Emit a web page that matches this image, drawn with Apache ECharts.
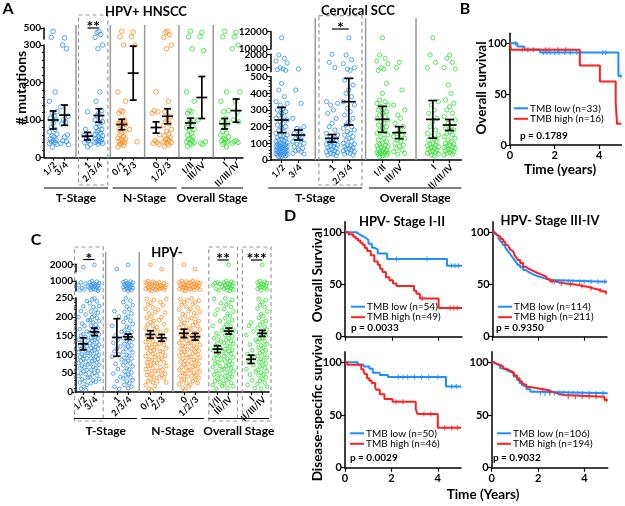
<!DOCTYPE html>
<html><head><meta charset="utf-8">
<script src="https://cdn.jsdelivr.net/npm/echarts@6/dist/echarts.min.js"></script>
<style>html,body{margin:0;padding:0;background:#fff}#c{width:625px;height:506px}</style>
</head><body><div id="c"></div>
<script>
// ================= DATA =================
// Panel A (left): HPV+ HNSCC, # mutations per patient
const hpvPosLabels = ['1/2','3/4','1','2/3/4','0/1','2/3','0','1/2/3','I/II','III/IV','I','II/III/IV'];
const hpvPosGroups = ['T','T','T','T','N','N','N','N','O','O','O','O'];
const hpvPosValues = [
  [470,415,175,150,122,118,110,105,100,92,80,75,68,62,58,55,50,47,45,42,40,38,35,28],
  [410,300,290,135,110,100,95,90,60,55,45,42,38,35],
  [122,75,62,58,52,48,45,40,35,28],
  [470,460,440,415,300,290,175,150,125,118,112,105,100,95,90,85,80,75,72,68,65,62,58,55,52,50,48,45,43,42,40,38,36],
  [470,420,300,175,150,125,122,118,100,98,95,92,90,88,85,80,75,70,65,60,55,52,50,48,45,42,40,38,35,32,28],
  [460,420,300,75,42],
  [175,125,122,118,60,45,40,38,35],
  [470,460,440,415,300,290,150,122,110,100,95,90,85,75,70,62,58,55,50,48,45,42,40,38,35,30],
  [470,420,290,175,150,125,122,118,100,95,90,85,80,75,70,65,60,55,50,48,45,42,40,38,35,30],
  [460,420,285,100,42,38,35],
  [470,420,175,150,125,122,105,95,90,80,70,65,60,55,50,48,45,42,40,35,28],
  [460,420,300,290,175,150,120,100,95,45,42,40,38]
];
const hpvPosMean = [100,113,57,112,88,225,80,110,92,160,90,125];
const hpvPosSem  = [24,27,10,18,14,72,15,20,13,56,14,31];
const hpvPosTickLabels = [0,100,200,300];
const hpvPosTopTickLabels = [500];

// Panel A (right): Cervical SCC
const cervLabels = ['1/2','3/4','1','2/3/4','I/II','III/IV','I','II/III/IV'];
const cervGroups = ['T','T','T','T','O','O','O','O'];
const cervValues = [
  [11300,1950,1700,1500,1350,1000,900,850,800,460,420,380,350,340,330,310,300,290,280,270,260,250,240,230,220,210,200,190,180,170,160,150,145,140,135,130,125,120,115,110,105,100,98,95,92,90,88,85,82,80,78,75,72,70,68,65,62,60,58,55,52,50,48,45,42,40,38,35,32,30,28,25,22,20],
  [900,420,340,250,200,190,180,160,150,140,130,120,110,100,95,90,80,70,60,55,50,40,35],
  [2000,1400,1000,350,340,330,300,280,250,220,200,180,160,150,140,130,120,115,110,105,100,95,90,85,80,75,70,65,60,55,50,45,40,35,30,25],
  [11300,1950,1600,1300,1000,900,800,480,450,420,400,380,350,330,310,290,270,250,230,210,200,190,180,170,160,150,140,130,120,110,100,95,90,85,80,75,70,65,60,55,50,45,40,35,30],
  [11300,1950,1700,1500,1300,1000,900,800,460,400,360,350,340,330,320,310,300,290,280,270,260,250,240,230,220,210,200,190,180,170,160,150,140,130,120,110,100,95,90,85,80,75,70,65,60,55,50,48,45,42,40,38,35,30,25,20],
  [1400,1000,420,330,300,270,250,220,200,180,160,150,140,130,120,110,100,90,80,70,60,50,40,35],
  [11300,1950,1400,1000,350,330,300,280,250,230,200,180,160,150,140,130,120,110,100,95,90,85,80,75,70,65,60,55,50,45,40,35,30,25],
  [1950,1700,1400,1000,900,450,400,360,340,320,300,280,260,240,220,200,190,180,170,160,150,140,130,120,110,100,95,90,85,80,75,70,65,60,55,50,45,40,35,30]
];
const cervMean = [240,150,130,350,244,164,244,210];
const cervSem  = [76,30,23,140,78,36,113,33];
const cervTickLabels = [0,100,200,300,400,500];
const cervMidTickLabels = [1000,2000];
const cervTopTickLabels = [10000,12000];

// Panel C: HPV-
const hpvNegLabels = ['1/2','3/4','1','2/3/4','0/1','2/3','0','1/2/3','I/II','III/IV','I','II/III/IV'];
const hpvNegGroups = ['T','T','T','T','N','N','N','N','O','O','O','O'];
const hpvNegValues = [
  [1700,900,810,700,610,500,410,350,242,228,215,206,199,191,182,176,167,161,154,150,146,139,136,131,127,123,121,116,114,110,106,104,100,97,93,90,88,83,80,77,73,70,66,63,58,55,50,47,42,38,34,29,25,19,14,9,5],
  [1950,1000,955,905,850,795,760,722,680,645,598,562,521,478,442,398,361,322,249,246,241,236,229,226,219,214,211,204,199,197,191,188,185,179,176,171,168,163,160,158,153,151,147,145,143,138,136,132,130,126,124,120,117,115,111,109,105,103,99,96,94,90,88,84,82,78,75,72,67,64,59,56,51,47,44,39,35,31,27,23],
  [1500,215,201,176,160,151,139,131,121,114,108,100,94,86,75,61,49,40,29,14,8],
  [1950,1000,962,918,881,842,799,761,718,683,641,598,561,519,482,440,401,362,318,249,243,239,231,227,220,213,209,201,197,190,186,181,174,171,164,160,157,151,149,143,141,135,133,128,124,121,115,113,107,105,99,96,91,89,83,80,76,71,68,63,60,55,52,47,44,39,36,31,28,23,19,14,10],
  [1950,1000,948,902,851,799,752,701,648,603,549,501,452,398,352,301,248,245,237,233,225,221,213,209,201,197,189,186,179,176,169,166,159,157,151,149,143,141,135,133,127,125,119,117,111,109,103,101,95,93,87,85,79,77,71,69,63,61,55,53,47,45,39,36,29,26,19,16,9,5],
  [1500,902,851,798,752,698,651,598,552,499,452,398,351,248,239,231,219,211,199,191,180,172,164,159,150,146,139,136,129,126,119,116,109,106,99,96,89,86,79,76,69,66,59,56,49,46,39,36,29,25],
  [1950,1000,951,899,852,801,749,702,651,598,552,499,448,401,349,302,247,244,239,231,227,219,215,207,203,195,191,184,181,174,171,164,161,155,153,147,145,139,137,131,129,123,121,115,113,107,105,99,97,91,89,83,81,75,73,67,65,59,57,51,49,43,41,34,31,24,21,14,11,5],
  [1500,1000,948,903,849,802,748,698,653,601,548,503,449,398,352,298,249,243,238,233,225,221,213,210,201,197,189,186,178,176,168,166,158,156,150,147,142,139,134,131,126,123,118,115,110,107,102,99,94,91,86,83,78,75,70,67,62,59,54,51,46,43,38,34,29,24,20],
  [900,851,799,702,598,452,349,248,236,219,206,189,176,164,156,147,143,135,131,123,119,111,107,99,96,89,86,79,76,69,66,59,56,49,46,39,36,29,26,19,16,9],
  [1950,1000,952,898,853,799,748,703,649,601,548,502,451,399,348,303,249,245,238,232,226,221,214,208,203,196,191,185,180,174,171,164,161,156,151,148,143,139,136,131,128,123,121,115,112,109,103,101,95,92,89,83,81,75,72,69,63,61,55,52,49,43,41,35,31,24,21,15,10],
  [185,176,161,151,139,126,111,101,94,91,79,71,61,54,46,31,19,10],
  [1950,1000,948,902,851,798,751,702,652,598,551,498,452,401,352,299,248,244,239,231,226,222,214,207,202,197,189,186,179,174,170,166,161,156,152,149,143,141,135,133,127,124,119,117,111,108,104,99,96,92,87,84,80,76,71,68,64,59,56,52,47,44,39,35,30,25,21,14,9]
];
const hpvNegMean = [128,160,145,147,153,144,156,147,114,162,87,156];
const hpvNegSem  = [16,10,50,7,10,9,11,9,9,8,11,8];
const hpvNegTickLabels = [0,50,100,150,200,250];
const hpvNegMidTickLabels = [1000];
const hpvNegTopTickLabels = [2000];

// Panel B: HPV+ HNSCC overall survival (time in years, survival %)
const bLow  = [[0,100],[0.33,97.0],[0.65,93.9],[1.35,90.9],[4.86,67.9],[5,67.9]];
const bHigh = [[0,100],[0.05,93.75],[3.13,78.1],[4.03,62.5],[4.74,41.7],[4.8,20.8],[5,20.8]];
const bLowCens  = [0.25,1.5,1.65,1.8,2.0,2.2,2.45,2.7,3.0,4.15,4.3,4.97];
const bHighCens = [0.55,0.8,1.05,1.6,1.75,2.15,2.5];

// Panel D: HPV- Kaplan-Meier
const d1Low  = [[0,100],[0.5,98.1],[0.6,96.3],[0.75,94.4],[0.9,92.6],[1.0,88.9],[1.15,85.2],[1.25,83.3],[1.4,79.6],[1.8,74.5],[4.36,68],[5,68]];
const d1High = [[0,100],[0.15,98],[0.35,96],[0.45,94],[0.55,92],[0.65,90],[0.75,88],[0.85,85],[0.95,82],[1.1,78],[1.25,72],[1.4,69],[1.5,65],[1.6,62],[1.75,57],[1.9,54],[2.05,51],[2.2,48.5],[2.95,44],[3.05,41],[3.2,36.5],[4.0,27.5],[5,27.5]];
const d1LowCens = [2.2,3.5,4.55,4.7,4.85];
const d1HighCens = [3.3,4.5,4.65,4.8];
const d2Low  = [[0,100],[0.08,98.2],[0.15,96.5],[0.25,94.2],[0.32,92.1],[0.4,90],[0.46,87.8],[0.55,85.5],[0.62,83.4],[0.68,81.4],[0.76,79.2],[0.83,77.1],[0.9,75],[0.97,72.8],[1.04,70.7],[1.1,68.6],[1.2,66.5],[1.33,63.8],[1.45,62.2],[1.55,60.6],[1.7,59],[1.84,57.4],[2.05,55.8],[2.28,54.2],[2.5,52.6],[5,52.6]];
const d2High = [[0,100],[0.1,98.6],[0.18,97.2],[0.25,95.8],[0.35,93.5],[0.46,91],[0.55,88.6],[0.62,87.2],[0.68,86.2],[0.76,83.5],[0.83,81.7],[0.9,79.8],[0.97,77.6],[1.04,75.5],[1.1,73.4],[1.2,70.6],[1.33,67],[1.45,65.3],[1.55,63.8],[1.7,62.2],[1.84,60.6],[2.0,59],[2.2,57.4],[2.35,55.2],[2.5,53.2],[2.7,52],[2.9,51],[3.2,50.2],[3.5,49.4],[3.75,48.5],[3.94,47.8],[4.15,46.5],[4.38,45.5],[4.55,44.2],[4.74,43],[4.9,42.3],[5,42.3]];
const d2LowCens = [2.7,2.9,3.1,3.3,3.5,3.8,4.0,4.3,4.6,4.9];
const d2HighCens = [2.6,3.0,3.4,3.9,4.3,4.7,4.95];
const d3Low  = [[0,100],[0.55,98],[0.8,96],[1.05,94],[1.2,90],[1.5,88],[1.85,86],[4.35,77],[5,77]];
const d3High = [[0,100],[0.1,97.8],[0.7,93.5],[0.8,91.3],[0.85,89],[0.95,84.8],[1.05,82.6],[1.15,80.4],[1.3,76],[1.35,73.9],[1.5,69.6],[1.7,65.2],[2.05,62.5],[3.05,56],[3.12,51],[4.0,38],[5,38]];
const d3LowCens = [2.3,2.5,2.7,3.0,3.3,3.6,4.0,4.6,4.8];
const d3HighCens = [2.2,2.5,3.4,3.7,4.3,4.6,4.85];
const d4Low  = [[0,100],[0.1,98.5],[0.2,96.8],[0.36,94.3],[0.5,92.5],[0.65,91],[0.8,89.6],[0.95,86.5],[1.09,83.2],[1.2,80.5],[1.3,78.5],[1.38,76.9],[1.5,74.5],[1.67,72.2],[1.96,70.6],[5,70.6]];
const d4High = [[0,100],[0.1,98.8],[0.2,97.5],[0.36,95.9],[0.5,93.8],[0.65,92.2],[0.8,90.5],[0.95,87.6],[1.09,84.8],[1.2,82.0],[1.3,80.0],[1.38,78.5],[1.5,76.5],[1.67,75.3],[1.96,73.7],[2.4,72.2],[2.6,70.5],[2.83,69],[3.1,67.4],[4.86,64.2],[5,64.2]];
const d4LowCens = [2.1,2.3,2.5,2.7,2.9,3.1,3.3,3.5,3.7,3.9,4.2,4.5,4.8];
const d4HighCens = [2.2,2.5,3.3,3.6,3.9,4.2,4.5,4.95];
const kmYTicks = [0,50,100];
const kmXTicks = [0,2,4];

// ================= STYLE / LAYOUT =================
const F = 'Lato, "Liberation Sans", sans-serif';
const GROUP_COLOR = {T:'#2f8ff0', N:'#ff8a1c', O:'#2fe02f'};
const KM_BLUE = '#1f8fff', KM_RED = '#ff2020';
const JIT = [0,-0.5,0.5,-1,1,-0.25,0.25,-0.75,0.75];
function xpos(i){ return 3*Math.floor(i/2) + (i%2); }

const panels = [
  {left:44, width:199, xmin:-0.8, xmax:16.6,
   segs:[{min:0,max:300,top:45,bottom:157.5,ticks:hpvPosTickLabels,interval:100},
         {min:400,max:500,top:28,bottom:39,ticks:hpvPosTopTickLabels}],
   labels:hpvPosLabels, groups:hpvPosGroups, values:hpvPosValues, means:hpvPosMean, sems:hpvPosSem,
   spread:0.33, size:4.5, meanHW:5.5, capHW:3.5, xfs:9,
   seps:[0,1,2,3,4], sepTop:25, boxes:[1], boxTop:15, boxBottom:185,
   sig:[{pair:1,text:'**',y:28}],
   groupLines:[{name:'T-Stage',p0:0,p1:1},{name:'N-Stage',p0:2,p1:3},{name:'Overall Stage',p0:4,p1:5}],
   lineY:188, textY:198},
  {left:270.7, width:190.7, xmin:-0.65, xmax:10.7,
   segs:[{min:0,max:500,top:76.7,bottom:160,ticks:cervTickLabels,interval:100},
         {min:700,max:2000,top:54.3,bottom:71.7,ticks:cervMidTickLabels},
         {min:10000,max:12000,top:31.7,bottom:49,ticks:cervTopTickLabels}],
   labels:cervLabels, groups:cervGroups, values:cervValues, means:cervMean, sems:cervSem,
   spread:0.33, size:4.2, meanHW:7, capHW:4.5, xfs:9,
   seps:[0,1,2], sepTop:18, boxes:[1], boxTop:15.7, boxBottom:185,
   sig:[{pair:1,text:'*',y:29}],
   groupLines:[{name:'T-Stage',p0:0,p1:1},{name:'Overall Stage',p0:2,p1:3}],
   lineY:188, textY:198},
  {left:76, width:193, xmin:-0.65, xmax:16.6,
   segs:[{min:0,max:250,top:298,bottom:392,ticks:hpvNegTickLabels,interval:50},
         {min:300,max:1000,top:281,bottom:291,ticks:hpvNegMidTickLabels},
         {min:1200,max:2000,top:264.3,bottom:272,ticks:hpvNegTopTickLabels}],
   labels:hpvNegLabels, groups:hpvNegGroups, values:hpvNegValues, means:hpvNegMean, sems:hpvNegSem,
   spread:0.42, size:3.6, meanHW:5, capHW:3.5, xfs:9,
   seps:[0,1,2], sepTop:252, boxes:[0,4,5], boxTop:247, boxBottom:421,
   sig:[{pair:0,text:'*',y:259.5},{pair:4,text:'**',y:260},{pair:5,text:'***',y:260}],
   groupLines:[{name:'T-Stage',p0:0,p1:1},{name:'N-Stage',p0:2,p1:3},{name:'Overall Stage',p0:4,p1:5}],
   lineY:418.5, textY:431}
];

const kmPlots = [
  {left:510, top:33.2, width:111.5, height:111.8, low:bLow, high:bHigh, lowC:bLowCens, highC:bHighCens, xlab:true,
   leg:['TMB low (n=33)','TMB high (n=16)'], p:'p = 0.1789', lx:514, ly:108.3, px:520, py:136},
  {left:345, top:221.8, width:117, height:114.9, low:d1Low, high:d1High, lowC:d1LowCens, highC:d1HighCens, xlab:false,
   leg:['TMB low (n=54)','TMB high (n=49)'], p:'p = 0.0033', lx:351, ly:306.7, px:351, py:327.3},
  {left:492.7, top:221.8, width:114.3, height:114.9, low:d2Low, high:d2High, lowC:d2LowCens, highC:d2HighCens, xlab:false,
   leg:['TMB low (n=114)','TMB high (n=211)'], p:'p = 0.9350', lx:498, ly:306.7, px:496, py:327.3},
  {left:345, top:351.8, width:116, height:115.9, low:d3Low, high:d3High, lowC:d3LowCens, highC:d3HighCens, xlab:true,
   leg:['TMB low (n=50)','TMB high (n=46)'], p:'p = 0.0029', lx:350, ly:433.3, px:350, py:457.7},
  {left:491.7, top:351.8, width:116, height:115.9, low:d4Low, high:d4High, lowC:d4LowCens, highC:d4HighCens, xlab:true,
   leg:['TMB low (n=106)','TMB high (n=194)'], p:'p = 0.9032', lx:497, ly:433.3, px:493, py:457.7}
];

// ================= BUILD =================
const grids = [], xAxes = [], yAxes = [], series = [];
const axisLineStyle = {color:'#000', width:1.5};
const lblBase = {color:'#000', fontWeight:'bold', fontFamily:F, showMinLabel:true, showMaxLabel:true, hideOverlap:false};
const plain = v => String(Math.round(v));

function addGrid(left, top, width, height){
  const g = grids.length;
  grids.push({left, top, width, height, containLabel:false, outerBoundsMode:'none'});
  return g;
}

panels.forEach(P => {
  P.g = [];
  P.pos = P.labels.map((_, i) => xpos(i));
  P.segs.forEach((s, si) => {
    const g = addGrid(P.left, s.top, P.width, s.bottom - s.top);
    P.g.push(g);
    if (si === 0) {
      xAxes.push({type:'value', gridIndex:g, min:P.xmin, max:P.xmax,
        axisLine:{show:true, onZero:false, lineStyle:axisLineStyle},
        axisTick:{show:true, customValues:P.pos, length:3, lineStyle:{color:'#000', width:1.2}},
        axisLabel:{show:false},
        splitLine:{show:false}, minorTick:{show:false}});
    } else {
      xAxes.push({type:'value', gridIndex:g, min:P.xmin, max:P.xmax, show:false});
    }
    const ya = {type:'value', gridIndex:g, min:s.min, max:s.max,
      axisLine:{show:true, onZero:false, lineStyle:axisLineStyle},
      axisTick:{show:true, customValues:s.ticks, length:4, lineStyle:{color:'#000', width:1.2}},
      axisLabel:{show:true, customValues:s.ticks, interval:0, fontSize:10, margin:3, formatter:plain, ...lblBase},
      splitLine:{show:false}};
    if (s.interval) {
      ya.interval = s.interval;
      ya.minorTick = {show:true, splitNumber:5, length:2, lineStyle:{color:'#000', width:1}};
    }
    yAxes.push(ya);
    P.values.forEach((vals, ci) => {
      const data = [];
      vals.forEach((v, k) => {
        if (v >= s.min && v <= s.max) data.push([xpos(ci) + JIT[k % JIT.length] * P.spread, v]);
      });
      series.push({type:'scatter', xAxisIndex:g, yAxisIndex:g, data, symbol:'circle', symbolSize:P.size,
        itemStyle:{color:'rgba(255,255,255,0)', borderColor:GROUP_COLOR[P.groups[ci]], borderWidth:1},
        silent:true, z:2});
    });
    if (si === 0) {
      series.push({type:'custom', xAxisIndex:g, yAxisIndex:g, z:5, silent:true,
        data: P.means.map((m, i) => [xpos(i), m, P.sems[i]]),
        renderItem: (params, api) => {
          const x = api.value(0), m = api.value(1), e = api.value(2);
          const c = api.coord([x, m]), t = api.coord([x, m + e]), b = api.coord([x, m - e]);
          const st = {stroke:'#000', lineWidth:1.7};
          return {type:'group', children:[
            {type:'line', shape:{x1:c[0]-P.meanHW, y1:c[1], x2:c[0]+P.meanHW, y2:c[1]}, style:st},
            {type:'line', shape:{x1:t[0], y1:t[1], x2:b[0], y2:b[1]}, style:st},
            {type:'line', shape:{x1:t[0]-P.capHW, y1:t[1], x2:t[0]+P.capHW, y2:t[1]}, style:st},
            {type:'line', shape:{x1:b[0]-P.capHW, y1:b[1], x2:b[0]+P.capHW, y2:b[1]}, style:st}
          ]};
        }});
    }
  });
});

function survAt(curve, t){ let v = curve[0][1]; for (const p of curve) { if (p[0] <= t) v = p[1]; } return v; }

kmPlots.forEach(K => {
  const g = addGrid(K.left, K.top, K.width, K.height);
  K.g = g;
  xAxes.push({type:'value', gridIndex:g, min:0, max:5, interval:1,
    axisLine:{show:true, onZero:false, lineStyle:axisLineStyle},
    axisTick:{show:true, customValues:kmXTicks, length:4, lineStyle:{color:'#000', width:1.2}},
    axisLabel:{show:K.xlab, customValues:kmXTicks, interval:0, fontSize:11, margin:5, formatter:plain, ...lblBase},
    splitLine:{show:false}});
  yAxes.push({type:'value', gridIndex:g, min:0, max:110, interval:10,
    axisLine:{show:true, onZero:false, lineStyle:axisLineStyle},
    axisTick:{show:true, customValues:kmYTicks, length:4, lineStyle:{color:'#000', width:1.2}},
    minorTick:{show:false},
    axisLabel:{show:true, customValues:kmYTicks, interval:0, fontSize:11, margin:3, formatter:plain, ...lblBase},
    splitLine:{show:false}});
  [[K.low, K.lowC, KM_BLUE], [K.high, K.highC, KM_RED]].forEach(([curve, cens, col]) => {
    series.push({type:'line', step:'end', xAxisIndex:g, yAxisIndex:g, data:curve, symbol:'none', silent:true, z:3,
      lineStyle:{color:col, width:2}});
    series.push({type:'scatter', xAxisIndex:g, yAxisIndex:g, silent:true, z:3,
      data: cens.map(t => [t, survAt(curve, t)]), symbol:'rect', symbolSize:[1.2, 5],
      itemStyle:{color:col}});
  });
});

const chart = echarts.init(document.getElementById('c'), null, {renderer:'canvas'});
chart.setOption({animation:false, backgroundColor:'#fff', grid:grids, xAxis:xAxes, yAxis:yAxes, series});

// ================= ANNOTATIONS =================
const graphics = [];
function T(text, x, y, o = {}) {
  const al = o.align || 'center', va = o.va || 'middle';
  graphics.push({type:'text', x, y, rotation:o.rot || 0, silent:true, z:100,
    style:{text, fill:'#000', fontFamily:F, fontSize:o.fs || 12, fontWeight:o.fw || 'bold',
      align:al, verticalAlign:va, textAlign:al, textVerticalAlign:va}});
}
function L(x1, y1, x2, y2, o = {}) {
  graphics.push({type:'line', silent:true, z:100, shape:{x1, y1, x2, y2},
    style:{stroke:o.c || '#000', lineWidth:o.w || 1, lineDash:o.dash || null}});
}
function R(x, y, w, h, o) {
  graphics.push({type:'rect', silent:true, z:100, shape:{x, y, width:w, height:h},
    style:{fill:'none', stroke:o.c, lineWidth:o.w, lineDash:o.dash}});
}

panels.forEach(P => {
  const g = P.g[0];
  const X = v => chart.convertToPixel({xAxisIndex:g}, v);
  const y0 = chart.convertToPixel({yAxisIndex:g}, P.segs[0].min);
  // category labels under the x axis, rotated 45 degrees
  P.pos.forEach((v, i) => T(P.labels[i], X(v) + 2, y0 + 6, {fs:P.xfs, align:'right', rot:Math.PI/4}));
  P.seps.forEach(p => { const x = X(3*p + 2); L(x, P.sepTop, x, y0, {c:'#9a9a9a', w:1.5}); });
  P.boxes.forEach(p => { const x1 = X(3*p - 0.78), x2 = X(3*p + 1.78);
    R(x1, P.boxTop, x2 - x1, P.boxBottom - P.boxTop, {c:'#9a9a9a', w:1.2, dash:[4,3]}); });
  P.sig.forEach(s => { const a = X(3*s.pair), b = X(3*s.pair + 1);
    L(a, s.y, b, s.y, {w:1.2}); T(s.text, (a + b) / 2, s.y - 1, {fs:16}); });
  P.groupLines.forEach(gl => {
    const a = X(3*gl.p0 - 0.8), b = X(Math.min(3*gl.p1 + 1.8, P.xmax));
    L(a, P.lineY, b, P.lineY, {w:1.2});
    T(gl.name, (a + b) / 2, P.textY, {fs:12});
  });
});

kmPlots.forEach(K => {
  L(K.lx, K.ly, K.lx + 14, K.ly, {c:KM_BLUE, w:2});
  L(K.lx, K.ly + 10.5, K.lx + 14, K.ly + 10.5, {c:KM_RED, w:2});
  T(K.leg[0], K.lx + 16, K.ly, {fs:10, fw:'normal', align:'left'});
  T(K.leg[1], K.lx + 16, K.ly + 10.5, {fs:10, fw:'normal', align:'left'});
  T(K.p, K.px, K.py, {fs:10, align:'left'});
});

// titles, letters, axis titles
T('A', 8, 9, {fs:16}); T('B', 465, 9, {fs:16}); T('C', 36, 240, {fs:16}); T('D', 290, 216, {fs:16});
T('HPV+ HNSCC', 146, 12, {fs:13});
T('Cervical SCC', 358, 11, {fs:13});
T('HPV-', 167, 253, {fs:13});
T('HPV- Stage I-II', 402, 222, {fs:13});
T('HPV- Stage III-IV', 550, 221, {fs:13});
T('# mutations', 21, 88, {fs:14, rot:Math.PI/2});
T('Overall survival', 482, 88, {fs:13.5, rot:Math.PI/2});
T('Time (years)', 560, 170, {fs:13.5});
T('Overall Survival', 318, 275, {fs:13.5, rot:Math.PI/2});
T('Disease-specific survival', 318, 408, {fs:13.5, rot:Math.PI/2});
T('Time (Years)', 483, 495, {fs:13.5});

chart.setOption({graphic: graphics});
</script>
</body></html>
